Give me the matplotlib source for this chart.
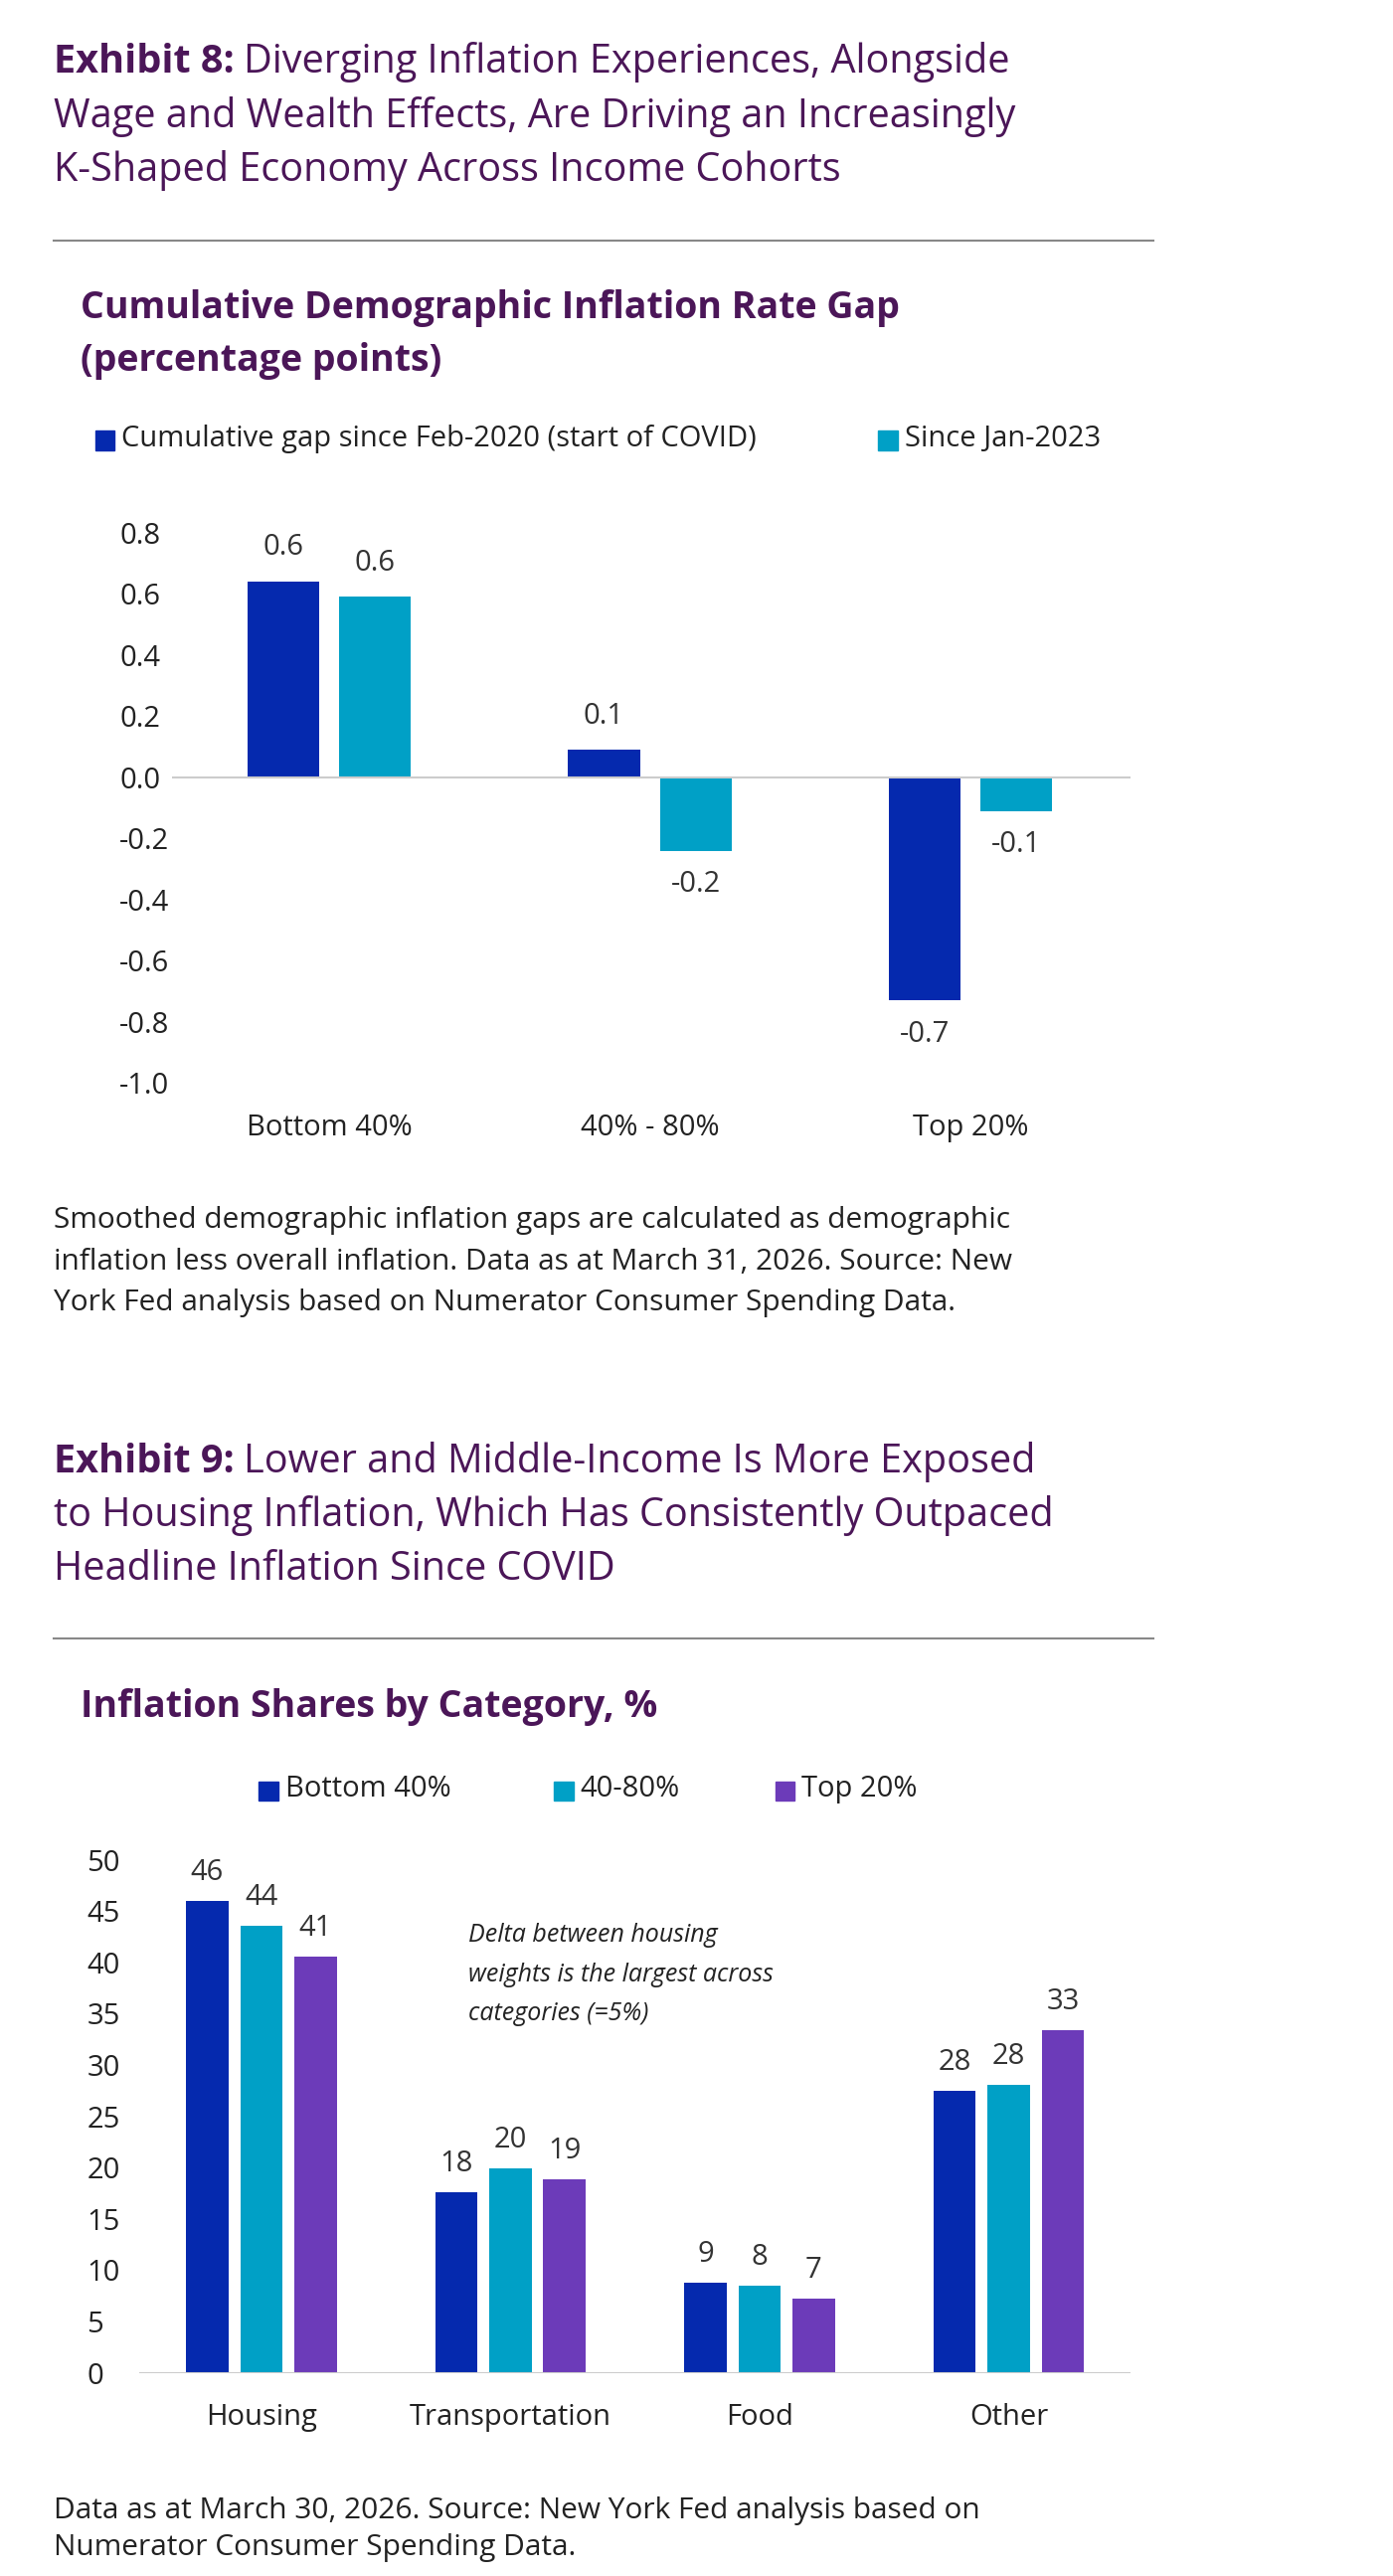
import matplotlib.pyplot as plt
from matplotlib.patches import Rectangle

plt.rcParams['font.family'] = ['Open Sans', 'DejaVu Sans']

# Exhibit 8 data
cohorts = ['Bottom 40%', '40% - 80%', 'Top 20%']
gap_since_covid = [0.64, 0.09, -0.73]
gap_since_2023 = [0.59, -0.24, -0.11]
gap_covid_labels = ['0.6', '0.1', '-0.7']
gap_2023_labels = ['0.6', '-0.2', '-0.1']
gap_ticks = [0.8, 0.6, 0.4, 0.2, 0.0, -0.2, -0.4, -0.6, -0.8, -1.0]

# Exhibit 9 data
categories = ['Housing', 'Transportation', 'Food', 'Other']
share_bottom40 = [46.0, 17.6, 8.8, 27.5]
share_40_80 = [43.6, 19.9, 8.5, 28.1]
share_top20 = [40.6, 18.9, 7.2, 33.4]
share_labels = [['46', '18', '9', '28'], ['44', '20', '8', '28'], ['41', '19', '7', '33']]
share_ticks = [0, 5, 10, 15, 20, 25, 30, 35, 40, 45, 50]

DARK = '#0529AE'
CYAN = '#00A0C6'
PURPLE = '#6C3BB9'
TITLE = '#4B1658'
TEXT = '#222222'

W, H = 850.0, 1572.0
fig = plt.figure(figsize=(14.01, 25.91), dpi=100)


def fx(x):
    return x / W


def fy(y):
    return 1 - y / H


def title_block(lines, y0, bold_prefix):
    for i, line in enumerate(lines):
        y = fy(y0 + i * 33)
        if i == 0:
            t = fig.text(fx(33), y, bold_prefix, fontsize=28.5, fontweight='bold', color=TITLE, va='center')
            fig.canvas.draw()
            bb = t.get_window_extent()
            x2 = bb.x1 / fig.bbox.width + 0.006
            fig.text(x2, y, line, fontsize=28.5, color=TITLE, va='center')
        else:
            fig.text(fx(33), y, line, fontsize=28.5, color=TITLE, va='center')


title_block(['Diverging Inflation Experiences, Alongside',
             'Wage and Wealth Effects, Are Driving an Increasingly',
             'K-Shaped Economy Across Income Cohorts'], 38, 'Exhibit 8:')
fig.add_artist(plt.Line2D([fx(33), fx(704)], [fy(147), fy(147)], color='#888888', lw=1.5))
fig.text(fx(49), fy(188), 'Cumulative Demographic Inflation Rate Gap', fontsize=27, fontweight='bold', color=TITLE, va='center')
fig.text(fx(49), fy(220), '(percentage points)', fontsize=27, fontweight='bold', color=TITLE, va='center')

# legend 1
fig.add_artist(Rectangle((fx(58), fy(275)), fx(12), 12 / H, color=DARK, transform=fig.transFigure))
fig.text(fx(74), fy(268), 'Cumulative gap since Feb-2020 (start of COVID)', fontsize=21, color=TEXT, va='center')
fig.add_artist(Rectangle((fx(536), fy(275)), fx(12), 12 / H, color=CYAN, transform=fig.transFigure))
fig.text(fx(552), fy(268), 'Since Jan-2023', fontsize=21, color=TEXT, va='center')

ax1 = fig.add_axes([fx(105), fy(661), fx(690 - 105), (661 - 325) / H])
x = list(range(len(cohorts)))
bw, off = 0.224, 0.143
ax1.bar([i - off for i in x], gap_since_covid, bw, color=DARK)
ax1.bar([i + off for i in x], gap_since_2023, bw, color=CYAN)
for i in x:
    for v, lab, o in [(gap_since_covid[i], gap_covid_labels[i], -off), (gap_since_2023[i], gap_2023_labels[i], off)]:
        ax1.annotate(lab, (i + o, v), xytext=(0, 14 if v >= 0 else -14), textcoords='offset points',
                     ha='center', va='bottom' if v >= 0 else 'top', fontsize=21, color='#333333')
ax1.set_xlim(-0.49, 2.5)
ax1.set_ylim(-1.0, 0.8)
ax1.set_yticks(gap_ticks)
ax1.set_yticklabels([f'{t:.1f}' for t in gap_ticks])
ax1.axhline(0, color='#cccccc', lw=1.5)
ax1.set_xticks(x)
ax1.set_xticklabels(cohorts)
for s in ax1.spines.values():
    s.set_visible(False)
ax1.tick_params(length=0, labelsize=21, colors=TEXT)
ax1.tick_params(axis='y', pad=38)
ax1.tick_params(axis='x', pad=22)
for t in ax1.get_yticklabels():
    t.set_ha('left')

for i, line in enumerate(['Smoothed demographic inflation gaps are calculated as demographic',
                          'inflation less overall inflation. Data as at March 31, 2026. Source: New',
                          'York Fed analysis based on Numerator Consumer Spending Data.']):
    fig.text(fx(33), fy(745 + i * 25), line, fontsize=21.5, color=TEXT, va='center')

title_block(['Lower and Middle-Income Is More Exposed',
             'to Housing Inflation, Which Has Consistently Outpaced',
             'Headline Inflation Since COVID'], 892, 'Exhibit 9:')
fig.add_artist(plt.Line2D([fx(33), fx(704)], [fy(1000), fy(1000)], color='#888888', lw=1.5))
fig.text(fx(49), fy(1042), 'Inflation Shares by Category, %', fontsize=27, fontweight='bold', color=TITLE, va='center')

for lx, col, lab in [(158, DARK, 'Bottom 40%'), (338, CYAN, '40-80%'), (473, PURPLE, 'Top 20%')]:
    fig.add_artist(Rectangle((fx(lx), fy(1099)), fx(12), 12 / H, color=col, transform=fig.transFigure))
    fig.text(fx(lx + 16), fy(1092), lab, fontsize=21, color=TEXT, va='center')

ax2 = fig.add_axes([fx(85), fy(1448), fx(690 - 85), (1448 - 1135) / H])
x = list(range(len(categories)))
bw, step = 0.17, 0.217
for k, (vals, col) in enumerate([(share_bottom40, DARK), (share_40_80, CYAN), (share_top20, PURPLE)]):
    pos = [i + (k - 1) * step for i in x]
    ax2.bar(pos, vals, bw, color=col)
    for p, v, lab in zip(pos, vals, share_labels[k]):
        ax2.annotate(lab, (p, v), xytext=(0, 10), textcoords='offset points', ha='center', va='bottom',
                     fontsize=21, color='#333333')
ax2.set_xlim(-0.49, 3.49)
ax2.set_ylim(0, 50)
ax2.set_yticks(share_ticks)
ax2.axhline(0, color='#cccccc', lw=1.5)
ax2.set_xticks(x)
ax2.set_xticklabels(categories)
for s in ax2.spines.values():
    s.set_visible(False)
ax2.tick_params(length=0, labelsize=21, colors=TEXT)
ax2.tick_params(axis='y', pad=38)
ax2.tick_params(axis='x', pad=22)
for t in ax2.get_yticklabels():
    t.set_ha('left')

for i, line in enumerate(['Delta between housing', 'weights is the largest across', 'categories (=5%)']):
    fig.text(fx(286), fy(1181 + i * 24), line, fontsize=18, style='italic', color=TEXT, va='center')

for i, line in enumerate(['Data as at March 30, 2026. Source: New York Fed analysis based on',
                          'Numerator Consumer Spending Data.']):
    fig.text(fx(33), fy(1532 + i * 23), line, fontsize=21.5, color=TEXT, va='center')

fig.savefig('out.png', dpi=100, facecolor='white')
